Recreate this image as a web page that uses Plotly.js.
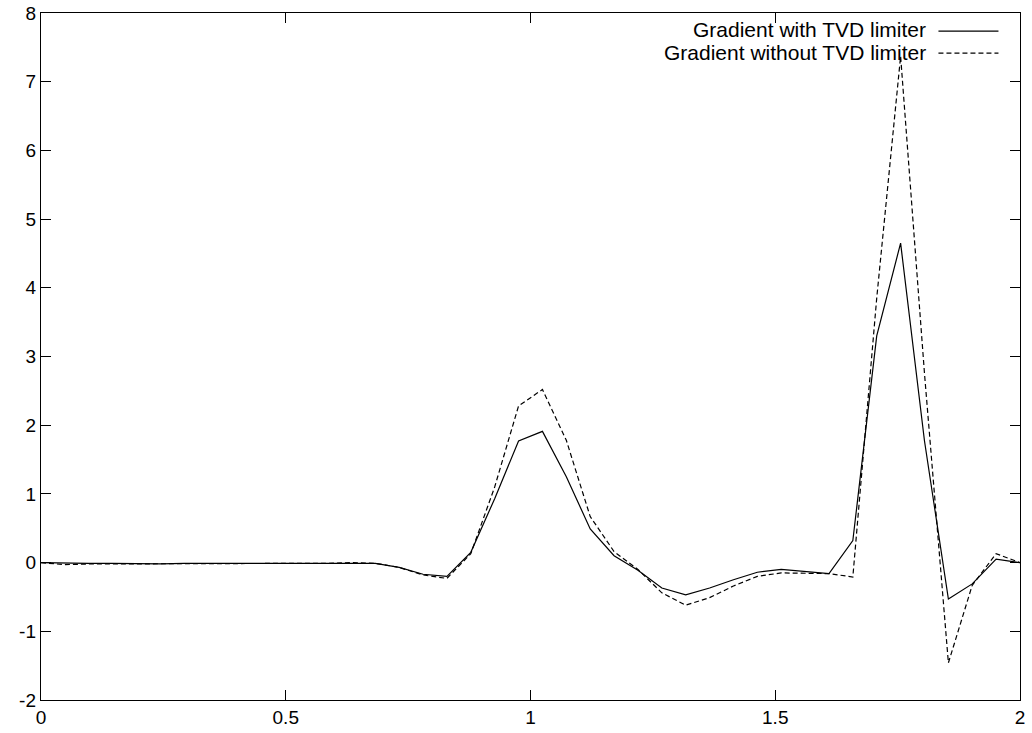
<!DOCTYPE html>
<html>
<head>
<meta charset="utf-8">
<script src="https://cdn.plot.ly/plotly-3.0.1.min.js"></script>
<style>
html,body{margin:0;padding:0;background:#fff;}
#chart{width:1032px;height:733px;}
</style>
</head>
<body>
<div id="chart"></div>
<script>
// x positions (42 cells across [0,2])
var xValues = [0.0000,0.0488,0.0976,0.1463,0.1951,0.2439,0.2927,0.3415,0.3902,0.4390,
  0.4878,0.5366,0.5854,0.6341,0.6829,0.7317,0.7805,0.8293,0.8780,0.9268,
  0.9756,1.0244,1.0732,1.1220,1.1707,1.2195,1.2683,1.3171,1.3659,1.4146,
  1.4634,1.5122,1.5610,1.6098,1.6585,1.7073,1.7561,1.8049,1.8537,1.9024,
  1.9512,2.0000];

var withLimiter = [0, -0.01, -0.01, -0.01, -0.02, -0.02, -0.01, -0.01, -0.01, -0.01,
  -0.01, -0.01, -0.01, 0.0, -0.01, -0.07, -0.17, -0.2, 0.15, 0.93,
  1.77, 1.91, 1.25, 0.49, 0.1, -0.11, -0.37, -0.47, -0.37, -0.25,
  -0.14, -0.1, -0.13, -0.16, 0.32, 3.3, 4.65, 1.77, -0.53, -0.31,
  0.05, 0.0];

var withoutLimiter = [0, -0.03, -0.02, -0.02, -0.02, -0.02, -0.02, -0.01, -0.01, -0.01,
  -0.01, -0.01, -0.01, 0.0, -0.01, -0.07, -0.18, -0.23, 0.13, 1.1,
  2.28, 2.52, 1.78, 0.67, 0.16, -0.1, -0.44, -0.62, -0.51, -0.34,
  -0.2, -0.15, -0.15, -0.16, -0.21, 3.85, 7.37, 2.75, -1.46, -0.33,
  0.13, 0.0];

var seriesNames = ['Gradient with TVD limiter', 'Gradient without TVD limiter'];

var xTickVals = [0, 0.5, 1, 1.5, 2];
var xTickLabels = ['0', '0.5', '1', '1.5', '2'];
var yTickVals = [-2, -1, 0, 1, 2, 3, 4, 5, 6, 7, 8];
var yTickLabels = ['-2', '-1', '0', '1', '2', '3', '4', '5', '6', '7', '8'];

var FONT = 'Liberation Sans, Arial, Helvetica, sans-serif';

var traces = [
  {x: xValues, y: withLimiter, mode: 'lines', name: seriesNames[0],
   line: {color: '#000', width: 1.2}, showlegend: false},
  {x: xValues, y: withoutLimiter, mode: 'lines', name: seriesNames[1],
   line: {color: '#000', width: 1.2, dash: '5px,3px'}, showlegend: false}
];

var layout = {
  width: 1032, height: 733,
  margin: {l: 41, r: 12, t: 13, b: 33, pad: 0},
  paper_bgcolor: '#fff', plot_bgcolor: '#fff',
  font: {family: FONT, size: 19, color: '#000'},
  xaxis: {
    range: [0, 2], tickvals: xTickVals, ticktext: xTickLabels,
    ticks: 'inside', ticklen: 10, tickwidth: 1, tickcolor: '#000',
    showline: true, linecolor: '#000', linewidth: 1.2, mirror: 'ticks',
    showgrid: false, zeroline: false, fixedrange: true,
    tickfont: {family: FONT, size: 19, color: '#000'}
  },
  yaxis: {
    range: [-2, 8], tickvals: yTickVals, ticktext: yTickLabels,
    ticks: 'inside', ticklen: 10, tickwidth: 1, tickcolor: '#000',
    showline: true, linecolor: '#000', linewidth: 1.2, mirror: 'ticks',
    showgrid: false, zeroline: false, fixedrange: true,
    tickfont: {family: FONT, size: 19, color: '#000'}
  },
  annotations: [
    {xref: 'paper', yref: 'paper', x: 0.906, y: 0.9753, xanchor: 'right', yanchor: 'middle',
     text: seriesNames[0], showarrow: false, font: {family: FONT, size: 21, color: '#000'}},
    {xref: 'paper', yref: 'paper', x: 0.906, y: 0.9418, xanchor: 'right', yanchor: 'middle',
     text: seriesNames[1], showarrow: false, font: {family: FONT, size: 21, color: '#000'}}
  ],
  shapes: [
    {type: 'line', xref: 'paper', yref: 'paper', x0: 0.9167, x1: 0.978, y0: 0.9735, y1: 0.9735,
     line: {color: '#000', width: 1.2}},
    {type: 'line', xref: 'paper', yref: 'paper', x0: 0.9167, x1: 0.978, y0: 0.9415, y1: 0.9415,
     line: {color: '#000', width: 1.2, dash: '5px,3px'}}
  ]
};

Plotly.newPlot('chart', traces, layout, {displayModeBar: false, staticPlot: true});
</script>
</body>
</html>
